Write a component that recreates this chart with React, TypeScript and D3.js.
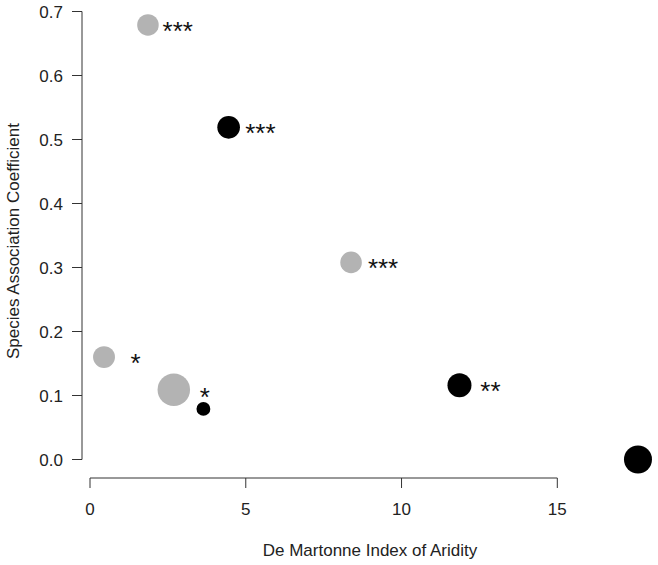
import React from "react";
import * as d3 from "d3";

const aridity = [1.86, 4.45, 8.38, 11.86, 17.59, 0.45, 2.69, 3.64];
const coefficient = [0.679, 0.519, 0.308, 0.116, 0.0, 0.16, 0.109, 0.079];
const group = ["gray", "black", "gray", "black", "black", "gray", "gray", "black"];
const sampleSize = [29, 32, 29, 36, 49, 30, 66, 12];
const signif = ["***", "***", "***", "**", "", "*", "", "*"];
const labelX = [2.33, 4.98, 8.92, 12.53, 0, 1.3, 0, 3.52];
const labelY = [0.679, 0.519, 0.308, 0.116, 0, 0.16, 0, 0.1075];
const xTicks = [0, 5, 10, 15];
const yTicks = [0, 0.1, 0.2, 0.3, 0.4, 0.5, 0.6, 0.7];

const W = 658;
const H = 565;
const FONT = "'Liberation Sans', Arial, Helvetica, sans-serif";

export default function App() {
  const x = d3.scaleLinear().domain([0, 15]).range([90, 557.3]);
  const y = d3.scaleLinear().domain([0, 0.7]).range([459.5, 11.5]);
  const r = d3.scaleSqrt().domain([0, 100]).range([0, 20]);
  const color = d3.scaleOrdinal<string, string>().domain(["gray", "black"]).range(["#b3b3b3", "#000000"]);
  const axisColor = "#333";
  const starSize = 26;
  const fs = 17;

  return (
    <svg width={W} height={H} style={{ position: "absolute", left: 0, top: 0, background: "#fff" }} fontFamily={FONT}>
      {/* y axis */}
      <line x1={82} x2={82} y1={y(0)} y2={y(0.7)} stroke={axisColor} strokeWidth={1} />
      {yTicks.map((t) => (
        <g key={"y" + t}>
          <line x1={72} x2={82} y1={y(t)} y2={y(t)} stroke={axisColor} strokeWidth={1} />
          <text x={63} y={y(t) + 6} textAnchor="end" fontSize={fs} fill="#222">
            {d3.format(".1f")(t)}
          </text>
        </g>
      ))}
      {/* x axis */}
      <line x1={x(0)} x2={x(15)} y1={478} y2={478} stroke={axisColor} strokeWidth={1} />
      {xTicks.map((t) => (
        <g key={"x" + t}>
          <line x1={x(t)} x2={x(t)} y1={478} y2={488} stroke={axisColor} strokeWidth={1} />
          <text x={x(t)} y={515} textAnchor="middle" fontSize={fs} fill="#222">
            {t}
          </text>
        </g>
      ))}
      <text x={370} y={556} textAnchor="middle" fontSize={fs} fill="#222">
        De Martonne Index of Aridity
      </text>
      <text transform={`translate(19, 241) rotate(-90)`} textAnchor="middle" fontSize={fs} fill="#222">
        Species Association Coefficient
      </text>
      {/* points */}
      {aridity.map((a, i) => (
        <circle key={"p" + i} cx={x(a)} cy={y(coefficient[i])} r={r(sampleSize[i])} fill={color(group[i])} />
      ))}
      {signif.map((s, i) =>
        s ? (
          <text
            key={"s" + i}
            x={x(labelX[i])}
            y={y(labelY[i]) + starSize * 0.58}
            fontSize={starSize}
            fill="#111"
          >
            {s}
          </text>
        ) : null
      )}
    </svg>
  );
}
